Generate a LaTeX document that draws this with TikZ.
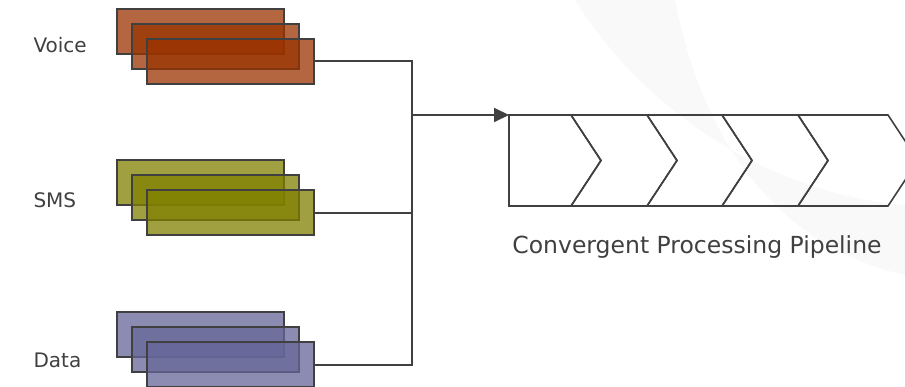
\documentclass[tikz,border=0pt]{standalone}
\usepackage{fontspec}
\setmainfont{DejaVu Sans}
\usetikzlibrary{positioning,arrows.meta}
\definecolor{voicecol}{RGB}{153,51,0}
\definecolor{smscol}{RGB}{128,128,0}
\definecolor{datacol}{RGB}{102,102,153}
\definecolor{linecol}{RGB}{64,64,64}
\definecolor{swoosh}{RGB}{249,249,249}
\tikzstyle{msgbox}=[draw=linecol,line width=2pt,fill opacity=0.75,minimum width=167pt,minimum height=45pt,inner sep=0pt]
\tikzstyle{chanlabel}=[anchor=west,text=linecol,font=\fontsize{20}{24}\selectfont]
\tikzstyle{link}=[draw=linecol,line width=2pt]
\tikzstyle{stage}=[draw=linecol,line width=1.6pt,line join=miter]

\begin{document}
\begin{tikzpicture}[x=1pt,y=-1pt]
    \useasboundingbox (0,0) rectangle (905,387);
    % faint background band
    \fill[swoosh] (575,0) .. controls (650,120) and (780,195) .. (905,205)
      -- (905,275) .. controls (770,245) and (700,130) .. (675,0) -- cycle;

    % message stacks
    \foreach \chan/\col/\y in {voice/voicecol/31.5,sms/smscol/183,data/datacol/334.5} {
      \node[msgbox,fill=\col] (\chan1) at (200.5,\y) {};
      \node[msgbox,fill=\col] (\chan2) at ([shift={(15,15)}]\chan1) {};
      \node[msgbox,fill=\col] (\chan3) at ([shift={(15,15)}]\chan2) {};
    }
    \node[chanlabel] (voicelbl) at (30,45) {Voice};
    \node[chanlabel] (smslbl) at (30,200) {SMS};
    \node[chanlabel] (datalbl) at (30,360) {Data};

    % joining lines
    \coordinate (bus) at (412,115);
    \coordinate (pipe) at (509,115);
    \draw[link] (voice3.east) -- (voice3.east -| bus) -- (data3.east -| bus) -- (data3.east);
    \draw[link] (sms3.east) -- (sms3.east -| bus);
    \draw[link,-{Triangle[length=15pt,width=14pt]}] (bus) -- (pipe);

    % pipeline
    \draw[stage] (pipe) -- ++(62,0) -- ++(30,45.5) -- ++(-30,45.5) -- ++(-62,0) -- cycle;
    \foreach \x/\w in {571/76,647/75,722/76,798/90}
      \draw[stage] (\x,115) -- ++(\w,0) -- ++(30,45.5) -- ++(-30,45.5) -- ++(-\w,0) -- ++(30,-45.5) -- cycle;
    \node[text=linecol,font=\fontsize{23.5}{28}\selectfont] (caption) at (697,247) {Convergent Processing Pipeline};
\end{tikzpicture}
\end{document}
